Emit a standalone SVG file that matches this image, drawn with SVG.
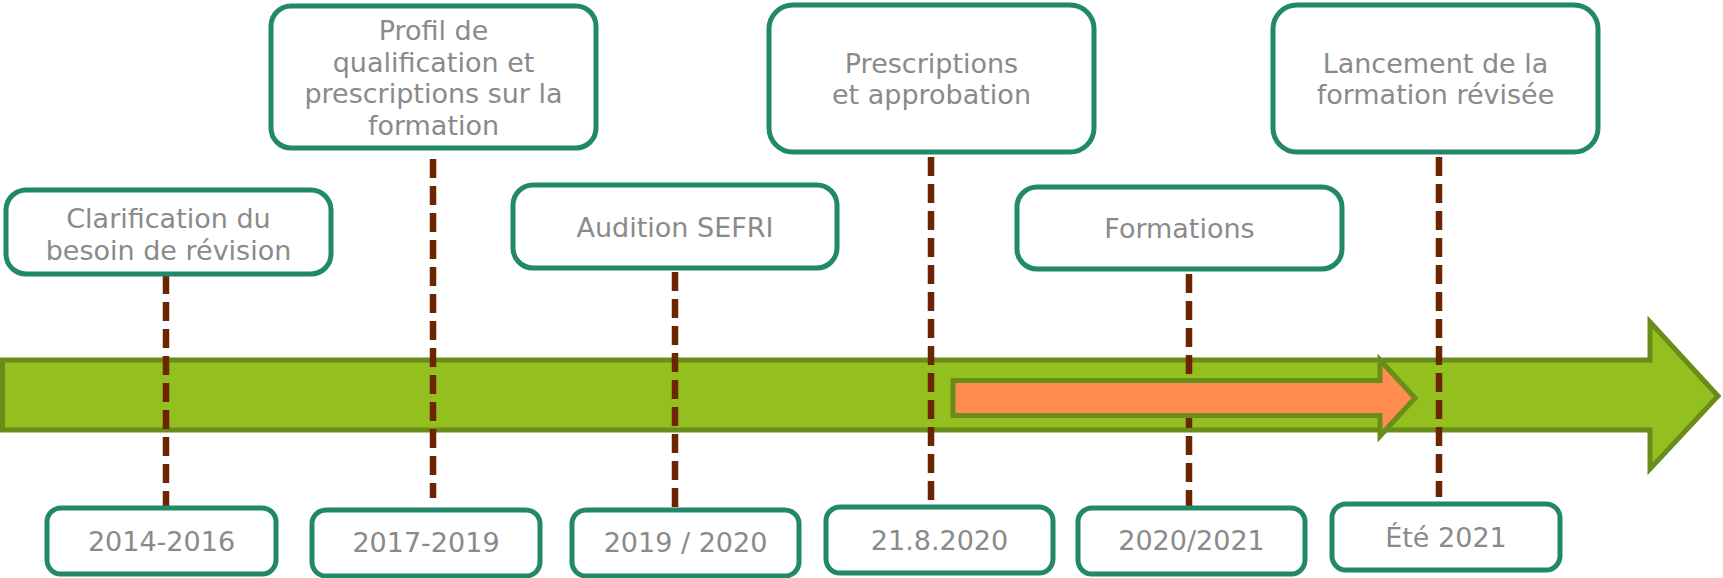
<svg xmlns="http://www.w3.org/2000/svg" width="1723" height="578" viewBox="0 0 1723 578">
<style>
.box{fill:#ffffff;stroke:#218868;stroke-width:5}
.t{font-family:"DejaVu Sans",Verdana,sans-serif;font-size:27px;fill:#8a8a8a;text-anchor:middle}
.dash{stroke:#6c2500;stroke-width:6.5;stroke-dasharray:19 8;fill:none}
.arrow{stroke:#6a8c1a;stroke-width:5;stroke-linejoin:miter}
</style>
<rect width="1723" height="578" fill="#ffffff"/>
<g id="timeline">
<polygon class="arrow" fill="#93c01f" points="2.5,360 1650,360 1650,322 1718,396 1650,469 1650,430 2.5,430"/>
</g>
<g id="connectors">
<line class="dash" x1="166" y1="275" x2="166" y2="506"/>
<line class="dash" x1="433" y1="159" x2="433" y2="498"/>
<line class="dash" x1="675" y1="272" x2="675" y2="507"/>
<line class="dash" x1="931" y1="157" x2="931" y2="503"/>
<line class="dash" x1="1189" y1="274" x2="1189" y2="506"/>
<line class="dash" x1="1439" y1="157" x2="1439" y2="497"/>
</g>
<g id="formations-arrow">
<polygon class="arrow" fill="#ff8c50" points="953,380.5 1380,380.5 1380,360 1415,398 1380,436 1380,415.5 953,415.5"/>
</g>
<g id="n1"><rect class="box" x="6" y="190" width="325" height="84" rx="20"/><text class="t" x="168.5" y="228">Clarification du</text><text class="t" x="168.5" y="260">besoin de révision</text></g>
<g id="n2"><rect class="box" x="271" y="6" width="325" height="142" rx="20"/><text class="t" x="433.5" y="40">Profil de</text><text class="t" x="433.5" y="72">qualification et</text><text class="t" x="433.5" y="103">prescriptions sur la</text><text class="t" x="433.5" y="135">formation</text></g>
<g id="n3"><rect class="box" x="513" y="185" width="324" height="83" rx="20"/><text class="t" x="675" y="237">Audition SEFRI</text></g>
<g id="n4"><rect class="box" x="769" y="5" width="325" height="147" rx="24"/><text class="t" x="931.5" y="73">Prescriptions</text><text class="t" x="931.5" y="104">et approbation</text></g>
<g id="n5"><rect class="box" x="1017" y="187" width="325" height="82" rx="20"/><text class="t" x="1179.5" y="238">Formations</text></g>
<g id="n6"><rect class="box" x="1273" y="5" width="325" height="147" rx="24"/><text class="t" x="1435.5" y="73">Lancement de la</text><text class="t" x="1435.5" y="104">formation révisée</text></g>
<g id="d1"><rect class="box" x="47" y="508" width="229" height="66" rx="14"/><text class="t" x="161.5" y="551">2014-2016</text></g>
<g id="d2"><rect class="box" x="312" y="510" width="228" height="66" rx="14"/><text class="t" x="426" y="552">2017-2019</text></g>
<g id="d3"><rect class="box" x="572" y="510" width="227" height="66" rx="14"/><text class="t" x="685.5" y="552">2019 / 2020</text></g>
<g id="d4"><rect class="box" x="826" y="507" width="227" height="66" rx="14"/><text class="t" x="939.5" y="550">21.8.2020</text></g>
<g id="d5"><rect class="box" x="1078" y="508" width="227" height="66" rx="14"/><text class="t" x="1191.5" y="550">2020/2021</text></g>
<g id="d6"><rect class="box" x="1332" y="504" width="228" height="66" rx="14"/><text class="t" x="1446" y="547">Été 2021</text></g>
</svg>
